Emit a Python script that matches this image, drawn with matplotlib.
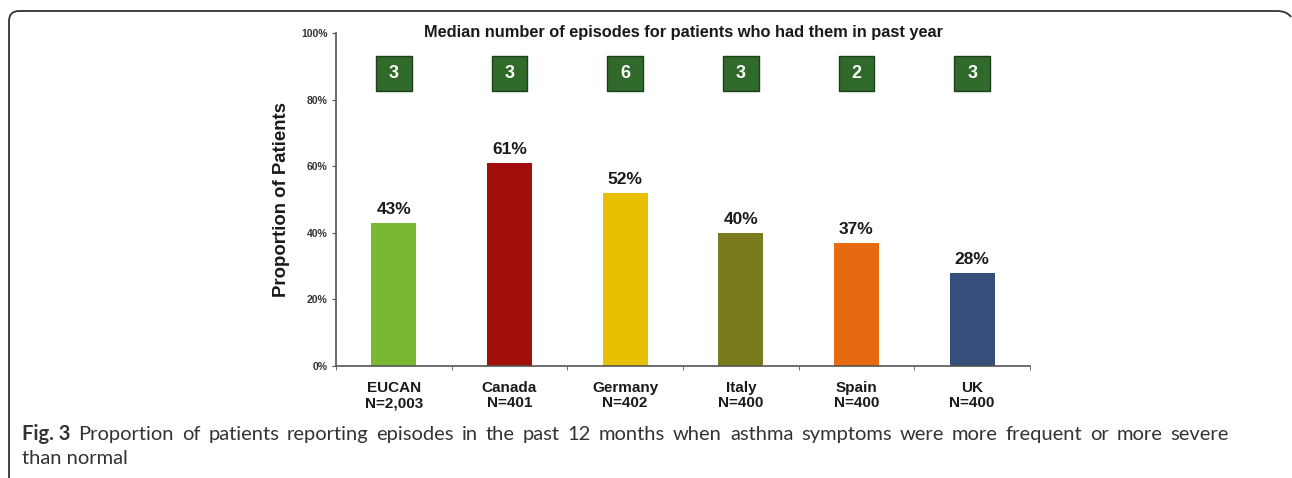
import matplotlib.pyplot as plt
from matplotlib.patches import Rectangle
from matplotlib.path import Path
from matplotlib.patches import PathPatch

categories = ['EUCAN', 'Canada', 'Germany', 'Italy', 'Spain', 'UK']
sample_sizes = ['N=2,003', 'N=401', 'N=402', 'N=400', 'N=400', 'N=400']
proportions = [43, 61, 52, 40, 37, 28]
median_episodes = [3, 3, 6, 3, 2, 3]
bar_colors = ['#78b833', '#a20f0b', '#e9c000', '#7a7b1c', '#e86a10', '#354f7a']

caption_bold = 'Fig. 3'
caption_line1 = ('Proportion of patients reporting episodes in the past 12 months '
                 'when asthma symptoms were more frequent or more severe')
caption_line2 = 'than normal'

W, H = 1292, 478
fig = plt.figure(figsize=(W / 100, H / 100), dpi=100)

ax = fig.add_axes([336 / W, 1 - 366 / H, 694 / W, 333 / H])
x = list(range(len(categories)))
ax.bar(x, proportions, width=0.39, color=bar_colors)
ax.set_xlim(-0.5, len(categories) - 0.5)
ax.set_ylim(0, 100)

for xi, p in zip(x, proportions):
    ax.text(xi, p + 1.8, f'{p}%', ha='center', va='bottom',
            fontsize=12.5, fontweight='bold', family='Liberation Sans', color='#1a1a1a')

# median episode boxes
box_w, box_h, box_y = 0.31, 10.5, 87.7
for xi, m in zip(x, median_episodes):
    ax.add_patch(Rectangle((xi - box_w / 2, box_y - box_h / 2), box_w, box_h,
                           facecolor='#2f6a2a', edgecolor='#1e3f1b', linewidth=1.0,
                           clip_on=False))
    ax.text(xi, box_y, str(m), ha='center', va='center', fontsize=13,
            fontweight='bold', family='Liberation Sans', color='white')

ax.text(2.5, 100, 'Median number of episodes for patients who had them in past year',
        ha='center', va='center', fontsize=11.8, fontweight='bold',
        family='Liberation Sans', color='#1a1a1a')

ax.set_yticks([0, 20, 40, 60, 80, 100])
ax.set_yticklabels([f'{v}%' for v in [0, 20, 40, 60, 80, 100]],
                   fontsize=7.5, fontweight='bold', family='Liberation Sans',
                   color='#333333')
ax.set_xticks(x)
ax.set_xticklabels([f'{c}\n{n}' for c, n in zip(categories, sample_sizes)],
                   fontsize=11, fontweight='bold', family='Liberation Sans',
                   linespacing=1.1, color='#1a1a1a')
ax.set_xticks([i - 0.5 for i in range(len(categories) + 1)], minor=True)
ax.tick_params(axis='x', which='major', length=0, pad=11)
ax.tick_params(axis='x', which='minor', length=3, color='#555555', direction='out')
ax.tick_params(axis='y', length=3, color='#555555', pad=3)
ax.set_ylabel('Proportion of Patients', fontsize=13.4, fontweight='bold',
              family='Liberation Sans', color='#1a1a1a', labelpad=8)

for side in ['top', 'right']:
    ax.spines[side].set_visible(False)
for side in ['left', 'bottom']:
    ax.spines[side].set_color('#555555')
    ax.spines[side].set_linewidth(1.2)

# frame around figure (top and sides, rounded top corners)
r = 10
verts = [(9, H), (9, 11 + r), (9, 11), (9 + r, 11),
         (1287 - r, 11), (1287, 11), (1287 + 4, 11 + r * 0.6)]
codes = [Path.MOVETO, Path.LINETO, Path.CURVE3, Path.CURVE3,
         Path.LINETO, Path.CURVE3, Path.CURVE3]
verts = [(vx / W, 1 - vy / H) for vx, vy in verts]
fig.patches.append(PathPatch(Path(verts, codes), transform=fig.transFigure,
                             fill=False, edgecolor='#333333', linewidth=1.3))

# caption, justified first line
fig.canvas.draw()
renderer = fig.canvas.get_renderer()
cap_kw = dict(fontsize=14.5, family='Lato', color='#333333', va='baseline')
y1 = 1 - 440 / H
y2 = 1 - 464 / H
left, right = 22 / W, 1229 / W
words = [(caption_bold, 'bold')] + [(w, 'normal') for w in caption_line1.split()]
items = []
total = 0
for w, weight in words:
    t = fig.text(0, y1, w, fontweight=weight, **cap_kw)
    bb = t.get_window_extent(renderer)
    items.append((t, bb.width / W))
    total += bb.width / W
gap = (right - left - total) / (len(items) - 1)
pos = left
for t, wdt in items:
    t.set_x(pos)
    pos += wdt + gap
fig.text(left, y2, caption_line2, **cap_kw)

fig.savefig('out.png', dpi=100)
